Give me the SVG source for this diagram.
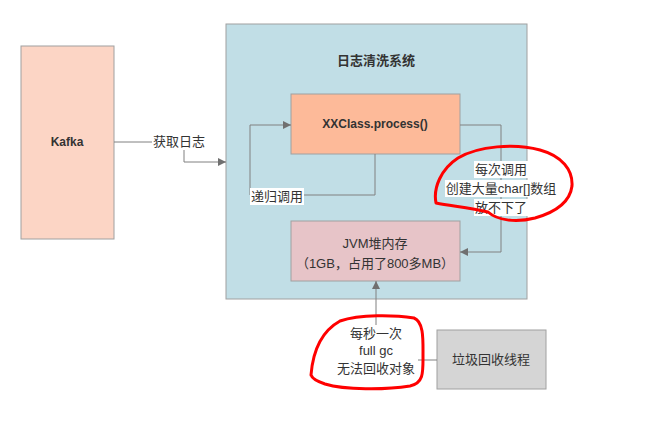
<svg xmlns="http://www.w3.org/2000/svg" width="655" height="429" viewBox="0 0 655 429">
<defs>
<style>
text{font-family:"Liberation Sans","Noto Sans CJK SC",sans-serif;font-size:13px;fill:#333;text-anchor:middle}
.b{font-weight:bold}
.s12{font-size:12px}
.box{stroke:#a0a0a0;stroke-width:1}
.ln{fill:none;stroke:#808080;stroke-width:1}
.lbg{fill:#ffffff}
.red{fill:none;stroke:#ff0000;stroke-width:3;stroke-linecap:round;stroke-linejoin:round}
</style>
<marker id="ar" viewBox="0 0 10 10" refX="10" refY="5" markerWidth="8" markerHeight="8" markerUnits="userSpaceOnUse" orient="auto">
<path d="M0,0 L10,5 L0,10 z" fill="#707070"/>
</marker>
</defs>
<rect width="655" height="429" fill="#ffffff"/>
<g id="kafka">
<rect class="box" x="21" y="46" width="93" height="193" fill="#FCD5C5"/>
<text class="b s12" x="67" y="146">Kafka</text>
</g>
<g id="system">
<rect class="box" x="226" y="24" width="301" height="275" fill="#C1DEE6"/>
<text class="b" x="376" y="65">日志清洗系统</text>
</g>
<g id="process">
<rect class="box" x="291" y="94" width="169" height="60" fill="#FDBA99"/>
<text class="b s12" x="375" y="128">XXClass.process()</text>
</g>
<g id="jvm">
<rect class="box" x="291" y="221" width="169" height="60" fill="#E7C4C8"/>
<text x="375" y="248">JVM堆内存</text>
<text x="375" y="268">（1GB，占用了800多MB）</text>
</g>
<g id="gc">
<rect class="box" x="437" y="330" width="109" height="59" fill="#D5D5D5"/>
<text x="491" y="364">垃圾回收线程</text>
</g>
<g id="connectors">
<path class="ln" d="M114,142 L184,142 L184,162 L226,162" marker-end="url(#ar)"/>
<rect class="lbg" x="152" y="133" width="54" height="17"/>
<text x="179" y="146">获取日志</text>
<path class="ln" d="M375,154 L375,195 L250,195 L250,125 L291,125" marker-end="url(#ar)"/>
<rect class="lbg" x="250" y="188" width="54" height="17"/>
<text x="277" y="201">递归调用</text>
<path class="ln" d="M460,125 L501,125 L501,252 L460,252" marker-end="url(#ar)"/>
<rect class="lbg" x="474" y="161" width="54" height="17"/>
<rect class="lbg" x="445" y="180" width="112" height="17"/>
<rect class="lbg" x="474" y="199" width="54" height="17"/>
<text x="501" y="174">每次调用</text>
<text x="501" y="193">创建大量char[]数组</text>
<text x="501" y="212">放不下了</text>
<path class="ln" d="M437,360 L376,360 L376,281" marker-end="url(#ar)"/>
<rect class="lbg" x="334" y="325" width="84" height="52"/>
<text x="376" y="338">每秒一次</text>
<text x="376" y="355">full gc</text>
<text x="376" y="373">无法回收对象</text>
</g>
<path class="red" d="M488,212 C470,208 452,206 436,203 C433,188 441,169 458,158 C478,146 515,143 540,150 C562,156 573,170 572,186 C570,202 556,212 535,218 C515,223 497,220 488,212"/>
<path class="red" d="M311,375 C313,350 322,331 340,321 C360,314 395,315 414,318 C424,322 423,340 423,355 C423,372 424,383 410,386 C385,390 345,390 325,384 C316,381 312,378 311,375"/>
</svg>
